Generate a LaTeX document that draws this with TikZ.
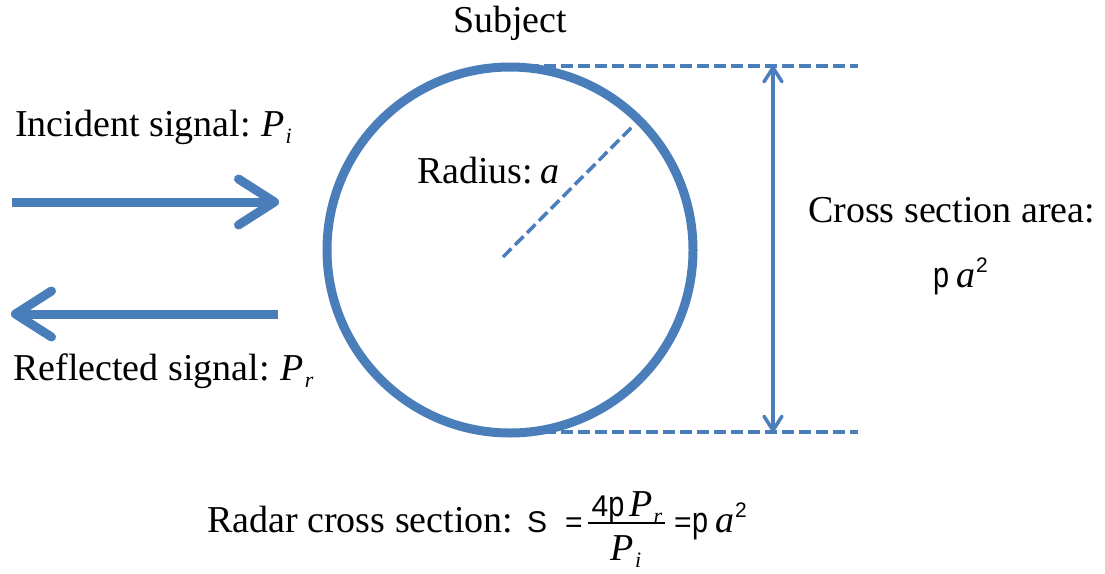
\documentclass[tikz,border=0pt]{standalone}
\usepackage{fontspec}
\usepackage{graphicx}
\setmainfont{Liberation Serif}
\setsansfont{Liberation Sans}
\usetikzlibrary{arrows.meta}
\definecolor{rcBlue}{HTML}{4A7EBB}
\definecolor{rcInk}{HTML}{000000}
\newcommand{\RCType}{\fontsize{38}{44}\selectfont}
\newcommand{\RCSym}{\fontsize{30}{32}\selectfont\sffamily}
\newcommand{\RCPi}{\scalebox{0.8}[1]{\fontsize{36}{38}\selectfont\sffamily p}}
\newcommand{\RCSub}[2]{\textit{#1}\kern1pt\raisebox{-7pt}{\fontsize{22}{24}\selectfont\textit{#2}}}
\newcommand{\RCArea}{\RCPi\kern7pt\textit{a}\kern1pt\raisebox{15pt}{\fontsize{21}{22}\selectfont\sffamily 2}}
\tikzset{rc/base/.style={x=1pt,y=-1pt,line cap=butt,
  every node/.style={font=\RCType,inner sep=0pt,text=rcInk}},
  rc/ring/.style={circle,draw=rcBlue,line width=9pt,minimum size=366pt},
  rc/beam/.style={draw=rcBlue,line width=9pt,
    -{Straight Barb[length=36pt,width=46pt,round]}},
  rc/guide/.style={draw=rcBlue,line width=3.5pt,dash pattern=on 12pt off 5pt},
  rc/span/.style={draw=rcBlue,line width=3.5pt,
    {Straight Barb[length=14pt,width=18pt,round]}-{Straight Barb[length=14pt,width=18pt,round]}}}

\begin{document}
\begin{tikzpicture}[rc/base]
  \useasboundingbox (0,0) rectangle (1105,573);
  % the subject and its radius
  \node[rc/ring] (subject) at (510,250) {};
  \node[anchor=base] (subjectLbl) at (510,32) {Subject};
  \coordinate (hub) at (503,257);
  \coordinate (rim) at (632,127);
  \draw[rc/guide] (hub) -- (rim);
  \node[anchor=base west] (radiusLbl) at (417,183) {Radius:\kern7pt\textit{a}};
  % incident and reflected signals
  \coordinate (inFrom) at (12,202);
  \coordinate (inTo) at (279,202);
  \draw[rc/beam] (inFrom) -- (inTo);
  \node[anchor=base west] (inLbl) at (15,136) {Incident signal:\kern11pt\RCSub{P}{i}};
  \coordinate (outFrom) at (278,314);
  \coordinate (outTo) at (11,314);
  \draw[rc/beam] (outFrom) -- (outTo);
  \node[anchor=base west] (outLbl) at (13,380) {Reflected signal:\kern11pt\RCSub{P}{r}};
  % projected cross section
  \coordinate (topL) at (510,66);
  \coordinate (topR) at (858,66);
  \coordinate (botL) at (510,432);
  \coordinate (botR) at (858,432);
  \draw[rc/guide] (topL) -- (topR);
  \draw[rc/guide] (botL) -- (botR);
  \coordinate (spanTop) at (773,66);
  \coordinate (spanBot) at (773,432);
  \draw[rc/span] (spanTop) -- (spanBot);
  \node[anchor=base west] (areaLbl) at (808,222) {Cross section area:};
  \node[anchor=base west] (areaVal) at (933,287) {\RCArea};
  % radar cross section formula
  \node[anchor=base west] (rcsLbl) at (207,532) {Radar cross section:};
  \node[anchor=base west,font=\RCSym] (sigma) at (527,532) {S};
  \node[anchor=base west,font=\RCSym] (eqA) at (565,532) {=};
  \node[anchor=base] (num) at (627,516) {{\RCSym 4}\RCPi\kern5pt\RCSub{P}{r}};
  \node[anchor=base] (den) at (626,560) {\RCSub{P}{i}};
  \draw[rcInk,line width=1.5pt] (588,523) -- (665,523);
  \node[anchor=base west,font=\RCSym] (eqB) at (674,532) {=};
  \node[anchor=base west] (rcsVal) at (692,532) {\RCArea};
\end{tikzpicture}
\end{document}
